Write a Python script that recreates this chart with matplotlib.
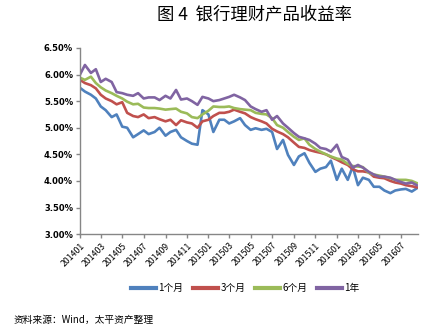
import numpy as np
import pandas as pd
import matplotlib
matplotlib.use("Agg")
import matplotlib.pyplot as plt
import matplotlib.dates as mdates

plt.rcParams['font.family'] = ['Noto Sans CJK SC', 'DejaVu Sans']

# semi-monthly observations, Jan 2014 - Aug 2016
dates = pd.date_range('2014-01-01', '2016-08-15', freq='SMS')

yield_1m = [5.75, 5.68, 5.62, 5.55, 5.40, 5.33, 5.20, 5.25, 5.02, 5.00,
            4.82, 4.88, 4.95, 4.88, 4.92, 5.00, 4.85, 4.92, 4.96, 4.82,
            4.75, 4.70, 4.68, 5.33, 5.25, 4.92, 5.15, 5.15, 5.08, 5.12,
            5.18, 5.05, 4.96, 4.99, 4.96, 4.98, 4.92, 4.60, 4.77, 4.49,
            4.30, 4.46, 4.52, 4.34, 4.17, 4.23, 4.26, 4.38, 4.02, 4.23,
            4.02, 4.27, 3.92, 4.06, 4.02, 3.89, 3.89, 3.82, 3.77, 3.82,
            3.84, 3.85, 3.80, 3.86]
yield_3m = [5.90, 5.84, 5.80, 5.74, 5.62, 5.55, 5.50, 5.44, 5.48, 5.28,
            5.22, 5.20, 5.25, 5.18, 5.20, 5.16, 5.12, 5.15, 5.05, 5.14,
            5.10, 5.08, 5.00, 5.12, 5.15, 5.22, 5.28, 5.28, 5.30, 5.34,
            5.30, 5.27, 5.20, 5.16, 5.12, 5.08, 4.98, 4.93, 4.88, 4.82,
            4.72, 4.64, 4.62, 4.58, 4.55, 4.53, 4.50, 4.45, 4.40, 4.35,
            4.30, 4.22, 4.18, 4.18, 4.16, 4.08, 4.06, 4.05, 4.00, 3.97,
            3.95, 3.92, 3.90, 3.88]
yield_6m = [5.94, 5.90, 5.96, 5.84, 5.76, 5.70, 5.65, 5.60, 5.55, 5.49,
            5.44, 5.45, 5.38, 5.37, 5.37, 5.36, 5.34, 5.35, 5.36, 5.30,
            5.27, 5.20, 5.18, 5.25, 5.32, 5.40, 5.39, 5.39, 5.40, 5.37,
            5.35, 5.34, 5.33, 5.28, 5.26, 5.25, 5.18, 5.05, 5.00, 4.92,
            4.83, 4.77, 4.80, 4.68, 4.60, 4.55, 4.50, 4.46, 4.42, 4.40,
            4.32, 4.28, 4.27, 4.26, 4.15, 4.12, 4.10, 4.08, 4.05, 4.02,
            4.02, 4.02, 4.00, 3.96]
yield_1y = [6.00, 6.18, 6.03, 6.10, 5.86, 5.92, 5.86, 5.67, 5.65, 5.62,
            5.60, 5.65, 5.55, 5.57, 5.57, 5.52, 5.60, 5.55, 5.71, 5.53,
            5.55, 5.50, 5.43, 5.58, 5.55, 5.50, 5.52, 5.55, 5.58, 5.62,
            5.57, 5.52, 5.40, 5.35, 5.30, 5.33, 5.15, 5.22, 5.08, 5.00,
            4.90, 4.83, 4.80, 4.77, 4.70, 4.62, 4.60, 4.55, 4.68, 4.45,
            4.40, 4.25, 4.30, 4.25, 4.17, 4.12, 4.08, 4.08, 4.06, 4.02,
            3.98, 3.95, 3.97, 3.92]

series_names = ['1个月', '3个月', '6个月', '1年']
colors = ['#4F81BD', '#C0504D', '#9BBB59', '#8064A2']
y_ticks = [3.0, 3.5, 4.0, 4.5, 5.0, 5.5, 6.0, 6.5]

fig = plt.figure(figsize=(4.42, 3.33), dpi=100)
ax = fig.add_axes([0.181, 0.297, 0.765, 0.559])

for vals, name, c in zip([yield_1m, yield_3m, yield_6m, yield_1y], series_names, colors):
    ax.plot(dates, vals, color=c, lw=1.9, label=name, solid_joinstyle='round')

ax.set_xlim(dates[0], pd.Timestamp('2016-08-19'))
ax.set_ylim(3.0, 6.5)
ax.set_yticks(y_ticks)
ax.set_yticklabels([f'{v:.2f}%' for v in y_ticks], fontsize=6, fontweight='bold',
                   family=['DejaVu Sans'])

ax.xaxis.set_major_locator(mdates.MonthLocator(bymonth=[1, 3, 5, 7, 9, 11]))
ax.xaxis.set_major_formatter(mdates.DateFormatter('%Y%m'))
for lbl in ax.get_xticklabels():
    lbl.set_rotation(45)
    lbl.set_ha('right')
    lbl.set_rotation_mode('anchor')
    lbl.set_fontsize(6.3)

for side in ['top', 'right']:
    ax.spines[side].set_visible(False)
for side in ['left', 'bottom']:
    ax.spines[side].set_color('#868686')
    ax.spines[side].set_linewidth(1.0)
ax.tick_params(axis='both', colors='#868686', length=3, width=1.0, labelcolor='black')
ax.tick_params(axis='x', pad=2)
ax.tick_params(axis='y', pad=2)

fig.text(0.575, 0.955, '图 4  银行理财产品收益率', ha='center', va='center',
         fontsize=12.5)

fig.legend(loc='center', bbox_to_anchor=(0.555, 0.135), ncol=4, frameon=False,
           fontsize=7, handlelength=2.6, handletextpad=0.2, columnspacing=1.0)
for lg_line in fig.legends[0].get_lines():
    lg_line.set_linewidth(3)

fig.text(0.03, 0.04, '资料来源：Wind，太平资产整理', ha='left', va='center', fontsize=7)

fig.savefig('out.png', dpi=100)
